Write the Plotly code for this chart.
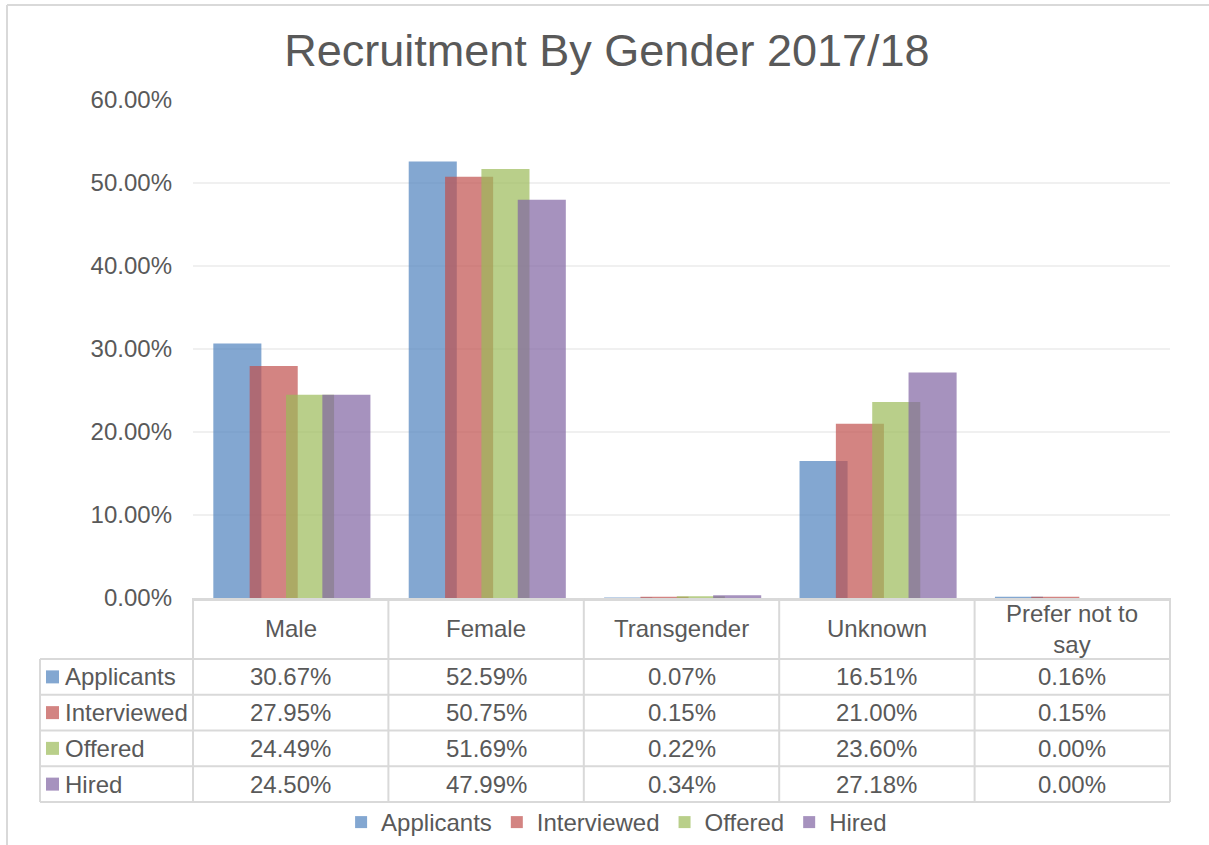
import plotly.graph_objects as go

# ---------------- data ----------------
categories = ["Male", "Female", "Transgender", "Unknown", "Prefer not to say"]
header_labels = ["Male", "Female", "Transgender", "Unknown", "Prefer not to<br>say"]
series_names = ["Applicants", "Interviewed", "Offered", "Hired"]
applicants = [30.67, 52.59, 0.07, 16.51, 0.16]
interviewed = [27.95, 50.75, 0.15, 21.00, 0.15]
offered = [24.49, 51.69, 0.22, 23.60, 0.00]
hired = [24.50, 47.99, 0.34, 27.18, 0.00]
y_ticks = [0, 0.1, 0.2, 0.3, 0.4, 0.5, 0.6]

series_values = [applicants, interviewed, offered, hired]
colors = ["rgba(79,129,189,0.7)", "rgba(192,80,77,0.7)", "rgba(155,187,89,0.7)", "rgba(128,100,162,0.7)"]

# ---------------- layout constants (pixels) ----------------
W, H = 1209, 845
PLOT_L, PLOT_R = 193, 1170
PLOT_T, PLOT_B = 100, 598
TABLE_HEADER_B = 659
ROW_H = 35.75
N_ROWS = 4
TABLE_B = TABLE_HEADER_B + ROW_H * N_ROWS
LEFT_COL = 40
GRID = "#D9D9D9"
TXT = "#595959"
FONT = "Liberation Sans, Arial, sans-serif"


def py(p):
    return 1 - p / H


def px(p):
    return p / W


bar_width = 0.246
bar_step = 0.186
bar_start = -0.396

fig = go.Figure()
for k, (name, vals, col) in enumerate(zip(series_names, series_values, colors)):
    fig.add_trace(go.Bar(
        name=name,
        x=categories,
        y=[v / 100 for v in vals],
        marker=dict(color=col, line=dict(width=0)),
        width=bar_width,
        offset=bar_start + k * bar_step,
        hovertemplate="%{x}: %{y:.2%}<extra>" + name + "</extra>",
    ))

shapes = []
annotations = []
line = dict(color=GRID, width=2)

# frame
shapes.append(dict(type="line", xref="paper", yref="paper", x0=px(7), x1=1.0, y0=py(5), y1=py(5), line=line))
shapes.append(dict(type="line", xref="paper", yref="paper", x0=px(7), x1=px(7), y0=py(5), y1=0.0, line=line))

# table horizontal lines
for r in range(N_ROWS + 1):
    yy = py(TABLE_HEADER_B + r * ROW_H)
    shapes.append(dict(type="line", xref="paper", yref="paper",
                       x0=px(LEFT_COL), x1=px(PLOT_R), y0=yy, y1=yy, line=line))
# table vertical lines at category boundaries
n = len(categories)
for c in range(n + 1):
    shapes.append(dict(type="line", xref="x domain", yref="paper",
                       x0=c / n, x1=c / n, y0=py(PLOT_B), y1=py(TABLE_B), line=line))
shapes.append(dict(type="line", xref="paper", yref="paper",
                   x0=px(LEFT_COL), x1=px(LEFT_COL), y0=py(TABLE_HEADER_B), y1=py(TABLE_B), line=line))

# header labels
for i, lab in enumerate(header_labels):
    annotations.append(dict(x=categories[i], xref="x", y=py((PLOT_B + TABLE_HEADER_B) / 2), yref="paper",
                            text=lab, showarrow=False, font=dict(size=24, color=TXT, family=FONT),
                            xanchor="center", yanchor="middle"))

# rows
for r, (name, vals, col) in enumerate(zip(series_names, series_values, colors)):
    yc = TABLE_HEADER_B + (r + 0.5) * ROW_H
    shapes.append(dict(type="rect", xref="paper", yref="paper",
                       x0=px(46), x1=px(59), y0=py(yc - 6.5), y1=py(yc + 6.5),
                       fillcolor=col, line=dict(width=0)))
    annotations.append(dict(x=px(63), xref="paper", y=py(yc), yref="paper", text=name,
                            showarrow=False, xanchor="left", yanchor="middle",
                            font=dict(size=24, color=TXT, family=FONT)))
    for i, v in enumerate(vals):
        annotations.append(dict(x=categories[i], xref="x", y=py(yc), yref="paper",
                                text=f"{v:.2f}%", showarrow=False, xanchor="center", yanchor="middle",
                                font=dict(size=24, color=TXT, family=FONT)))

fig.update_layout(
    width=W, height=H, autosize=False,
    margin=dict(l=0, r=0, t=0, b=0, autoexpand=False),
    paper_bgcolor="white", plot_bgcolor="white",
    barmode="overlay",
    font=dict(family=FONT, color=TXT, size=24),
    title=dict(text="Recruitment By Gender 2017/18", x=0.502, xanchor="center",
               y=py(50), yanchor="middle", font=dict(size=45, color=TXT, family=FONT)),
    xaxis=dict(domain=[px(PLOT_L), px(PLOT_R)], showticklabels=False, showgrid=False,
               showline=True, linecolor=GRID, linewidth=3, ticks="", zeroline=False,
               automargin=False,
               categoryorder="array", categoryarray=categories, range=[-0.5, n - 0.5]),
    yaxis=dict(domain=[py(PLOT_B), py(PLOT_T)], range=[0, 0.6], tickvals=y_ticks,
               tickformat=".2%", showgrid=True, gridcolor="#F0F0F0", gridwidth=2,
               zeroline=False, showline=False, ticks="", ticklabelstandoff=20,
               automargin=False,
               tickfont=dict(size=24, color=TXT, family=FONT)),
    legend=dict(orientation="h", x=0.51, xanchor="center", y=0.0, yanchor="bottom",
                font=dict(size=24, color=TXT, family=FONT), itemwidth=30,
                traceorder="normal", bgcolor="rgba(0,0,0,0)"),
    shapes=shapes,
    annotations=annotations,
)

fig.write_html("out.html", config={"displayModeBar": False},
               post_script="document.body.style.margin='0px';")
